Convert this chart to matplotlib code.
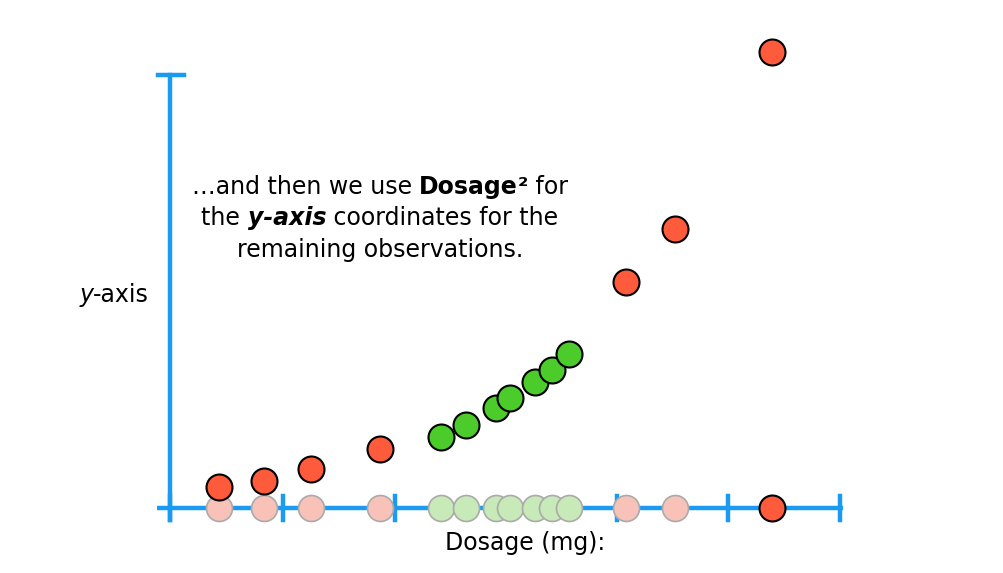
import matplotlib.pyplot as plt

# dosage positions (in px-like units along the axis) and heights above the axis
red_dose = [219, 264, 311, 380, 626, 675, 772]
red_height = [21, 27, 39, 59, 226, 279, 456]
green_dose = [441, 466, 496, 510, 535, 552, 569]
green_height = [71, 83, 100, 110, 126, 138, 154]
tick_pos = [170, 283, 395, 507, 617, 728, 840]

BLUE = '#1a9af0'
fig = plt.figure(figsize=(10.04, 5.73), dpi=100)
ax = fig.add_axes([0, 0, 1, 1])
ax.set_xlim(0, 1004)
ax.set_ylim(-65, 508)
ax.axis('off')

# axes
ax.plot([157, 843], [0, 0], color=BLUE, lw=3.2, zorder=1, solid_capstyle='butt')
ax.plot([170, 170], [-12, 433], color=BLUE, lw=3.2, zorder=1)
ax.plot([158, 184], [433, 433], color=BLUE, lw=3.2, zorder=1)
for t in tick_pos:
    if t == 507:
        continue
    ax.plot([t, t], [-12, 12], color=BLUE, lw=3.2, zorder=1)

# faded copies on the axis
ax.scatter(red_dose[:-1], [0] * 6, s=350, color='#f8c2b9', edgecolor='#aaaaaa', lw=1.2, zorder=2)
ax.scatter(green_dose, [0] * 7, s=350, color='#c8e9b8', edgecolor='#aaaaaa', lw=1.2, zorder=2)
ax.scatter([772], [0], s=350, color='#fe5a3c', edgecolor='black', lw=1.5, zorder=3)

ax.scatter(red_dose, red_height, s=350, color='#fe5a3c', edgecolor='black', lw=1.5, zorder=3)
ax.scatter(green_dose, green_height, s=350, color='#4ccc2a', edgecolor='black', lw=1.5, zorder=3)

fs = 17
ax.text(525, -35, 'Dosage (mg):', fontsize=fs, ha='center', va='center')
ax.text(80, 213, 'y', fontsize=fs, style='italic', ha='left', va='center')
ax.text(93, 213, '-axis', fontsize=fs, ha='left', va='center')

lines = [
    [('…and then we use ', {}), ('Dosage', {'weight': 'bold'}), ('²', {'weight': 'bold'}), (' for', {})],
    [('the ', {}), ('y-axis', {'weight': 'bold', 'style': 'italic'}), (' coordinates for the', {})],
    [('remaining observations.', {})],
]
ys = [321, 290, 258]
fig.canvas.draw()
r = fig.canvas.get_renderer()
inv = ax.transData.inverted()
for segs, y in zip(lines, ys):
    objs = [ax.text(0, y, s, fontsize=fs, va='center', **kw) for s, kw in segs]
    widths = []
    for o in objs:
        bb = o.get_window_extent(r)
        widths.append(bb.width)
    x = 380 - sum(widths) / 2
    for o, w in zip(objs, widths):
        o.set_x(x)
        x += w

fig.savefig('out.png', dpi=100)
